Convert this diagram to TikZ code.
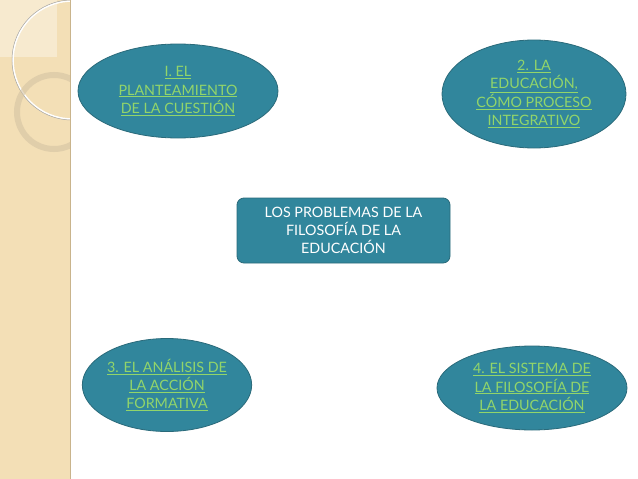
\documentclass[tikz,border=0pt]{standalone}
\usepackage{fontspec}
\setmainfont{Lato}
\usetikzlibrary{shapes.geometric}
\definecolor{band}{HTML}{F3DFB6}
\definecolor{bandedge}{HTML}{C9B48C}
\definecolor{teal}{HTML}{31869C}
\definecolor{tealedge}{HTML}{2A6A7A}
\definecolor{lgreen}{HTML}{92D56A}
\begin{document}
\begin{tikzpicture}[x=1pt,y=-1pt,
  topic/.style={ellipse, draw=tealedge, line width=0.8pt, fill=teal, inner sep=0pt,
     text=lgreen, align=center, font=\fontsize{14.3}{18.3}\selectfont},
  central/.style={rectangle, rounded corners=7pt, draw=tealedge, line width=0.8pt, fill=teal,
     text=white, align=center, font=\fontsize{14.3}{18.3}\selectfont}]
\useasboundingbox (0,0) rectangle (638,479);
\fill[white] (0,0) rectangle (638,479);
% left band
\fill[band] (0,0) rectangle (70,479);
\begin{scope}
\clip (0,0) rectangle (70,479);
\fill[white, opacity=0.35] (0,0) rectangle (57,57);
\draw[white, line width=1.6pt] (72,60) circle (59);
\draw[black!35, line width=0.5pt] (72,60) circle (60);
\draw[bandedge!80, opacity=0.6, line width=6pt] (54,112) circle (37);
\end{scope}
\draw[bandedge, line width=1pt] (70,0) -- (70,479);
% nodes
\node[topic, minimum width=200pt, minimum height=94pt] (t1) at (178,91)
  {\underline{I. EL}\\\underline{PLANTEAMIENTO}\\\underline{DE LA CUESTIÓN}};
\node[topic, minimum width=184pt, minimum height=108pt] (t2) at (534,94)
  {\underline{2. LA}\\\underline{EDUCACIÓN,}\\\underline{CÓMO PROCESO}\\\underline{INTEGRATIVO}};
\node[central, minimum width=213pt, minimum height=65pt] (c) at (343.5,230.5)
  {LOS PROBLEMAS DE LA\\FILOSOFÍA DE LA\\EDUCACIÓN};
\node[topic, minimum width=166pt, minimum height=93pt] (t3) at (167,385)
  {\underline{3. EL ANÁLISIS DE}\\\underline{LA ACCIÓN}\\\underline{FORMATIVA}};
\node[topic, minimum width=190pt, minimum height=84pt] (t4) at (532,388)
  {\underline{4. EL SISTEMA DE}\\\underline{LA FILOSOFÍA DE}\\\underline{LA EDUCACIÓN}};
\end{tikzpicture}
\end{document}
